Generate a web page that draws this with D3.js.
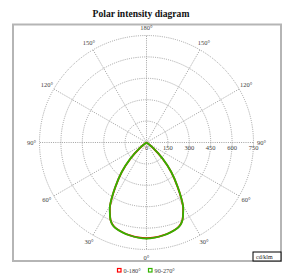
<!DOCTYPE html>
<html><head><meta charset="utf-8">
<script src="https://cdn.jsdelivr.net/npm/d3@7"></script>
<style>body{margin:0;background:#fff}svg{display:block}</style>
</head><body><svg id="c" width="283" height="280"></svg>
<script>
const title = "Polar intensity diagram";
const unitLabel = "cd/klm";
const seriesNames = ["0-180°", "90-270°"];
const seriesColors = ["#ff0000", "#33b300"];
const gammaAngles = [0,5,10,15,20,22.5,25,28,30,35,40,45,50,55,60,70,80,90,120,150,180];
const values0_180 = [671,668,661,651,637,622,597,547,510,380,268,158,60,12,0,0,0,0,0,0,0];
const values90_270 = [673,669,662,652,638,624,598,548,512,382,270,160,62,12,0,0,0,0,0,0,0];
const ringValues = [150,300,450,600,750];
const spokeAngles = [0,30,60,90,120,150,180];

const svg = d3.select("#c");
const cx = 146.5, cy = 142.5, R = 107;
const r = d3.scaleLinear().domain([0,750]).range([0,R]);
const font = "'Liberation Serif','Times New Roman',serif";

svg.append("text").attr("x",141).attr("y",17).attr("text-anchor","middle")
  .attr("font-family",font).attr("font-weight","bold").attr("font-size",9.6).attr("fill","#111").text(title);

svg.append("rect").attr("x",13).attr("y",24.5).attr("width",268).attr("height",236.5)
  .attr("fill","none").attr("stroke","#b5b5b5").attr("stroke-width",2);

const g = svg.append("g").attr("transform",`translate(${cx},${cy})`);
const grid = {stroke:"#8a8a8a","stroke-width":0.8,"stroke-dasharray":"1,1.2",fill:"none"};
function sty(sel){Object.entries(grid).forEach(([k,v])=>sel.attr(k,v));return sel;}

sty(g.selectAll("circle.ring").data(ringValues).join("circle").attr("r",d=>r(d)));
const pt = (a,rad,side)=>[side*rad*Math.sin(a*Math.PI/180), rad*Math.cos(a*Math.PI/180)];
const spokes = [];
spokeAngles.forEach(a=>{[1,-1].forEach(s=>{ if((a===0||a===180)&&s===-1) return; spokes.push({a,s});});});
sty(g.selectAll("line.spoke").data(spokes).join("line")
  .attr("x1",0).attr("y1",0)
  .attr("x2",d=>pt(d.a,R,d.s)[0]).attr("y2",d=>pt(d.a,R,d.s)[1]));

g.selectAll("text.al").data(spokes).join("text")
  .attr("x",d=>pt(d.a,R+8,d.s)[0]).attr("y",d=>pt(d.a,R+8,d.s)[1]+2.2)
  .attr("text-anchor","middle").attr("font-family",font).attr("font-size",6.5).attr("fill","#444")
  .text(d=>d.a+"°");

g.selectAll("text.rl").data([0].concat(ringValues)).join("text")
  .attr("x",d=>r(d)).attr("y",7.5).attr("text-anchor","middle")
  .attr("font-family",font).attr("font-size",6.5).attr("fill","#444").text(d=>d);

function curveData(vals){
  const right = gammaAngles.map((a,i)=>pt(a,r(vals[i]),1));
  const left = gammaAngles.map((a,i)=>pt(a,r(vals[i]),-1)).reverse();
  return left.concat(right.slice(1));
}
const line = d3.line().curve(d3.curveCatmullRom.alpha(0.5));
[values0_180, values90_270].forEach((vals,i)=>{
  g.append("path").attr("d",line(curveData(vals))).attr("fill","none")
   .attr("stroke",seriesColors[i]).attr("stroke-width",1.8).attr("stroke-linejoin","round");
});

svg.append("rect").attr("x",253).attr("y",252).attr("width",28).attr("height",9)
  .attr("fill","#fff").attr("stroke","#000").attr("stroke-width",1);
svg.append("text").attr("x",256).attr("y",259).attr("font-family",font).attr("font-size",6)
  .attr("fill","#222").text(unitLabel);

const lx = [117.5,148.5];
seriesNames.forEach((n,i)=>{
  svg.append("rect").attr("x",lx[i]).attr("y",268.5).attr("width",3.5).attr("height",3.5)
    .attr("fill","#fff").attr("stroke",seriesColors[i]).attr("stroke-width",1.2);
  svg.append("text").attr("x",lx[i]+6).attr("y",273).attr("font-family",font).attr("font-size",6.3)
    .attr("fill","#444").text(n);
});
</script></body></html>
